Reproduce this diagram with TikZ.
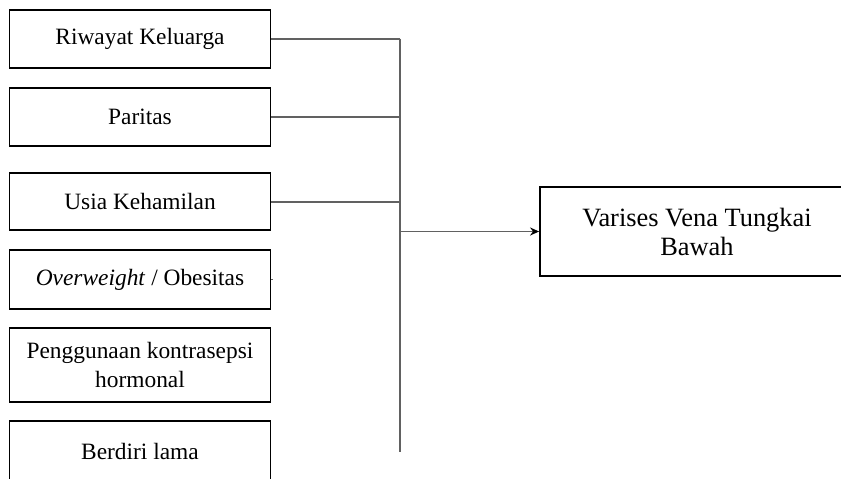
\documentclass[tikz,border=0pt]{standalone}
\usepackage{fontspec}
\setmainfont{Liberation Serif}
\usetikzlibrary{arrows.meta,positioning}

\begin{document}
\begin{tikzpicture}[
    x=0.5pt, y=-0.5pt,
    >={Stealth[length=4.5pt,width=4pt,color=black]},
    faktor/.style={draw, line width=0.9pt, minimum width=130.5pt, inner sep=0pt,
      align=center, font=\fontsize{11.7}{14.5}\selectfont},
    hasilbox/.style={draw, line width=0.9pt, minimum width=157pt, minimum height=44.5pt,
      inner sep=0pt, align=center, font=\fontsize{13.2}{14.5}\selectfont},
    link/.style={line width=0.95pt, black!62},
  ]
  \useasboundingbox (0,0) rectangle (841,478);
  \clip (0,0) rectangle (841,478);
  \def\bx{400}

  % ========= LEFT: FACTORS =========
  \node[faktor, minimum height=29pt] (riwayat) at (140,38.6) {Riwayat Keluarga};
  \node[faktor, minimum height=29pt] (paritas) at (140,116.7) {Paritas};
  \node[faktor, minimum height=28.5pt] (usia) at (140,201.7) {Usia Kehamilan};
  \node[faktor, minimum height=29.5pt] (obesitas) at (140,279.5) {\textit{Overweight} / Obesitas};
  \node[faktor, minimum height=37pt] (kontrasepsi) at (140,365) {Penggunaan kontrasepsi\\hormonal};
  \node[faktor, minimum height=30pt] (berdiri) at (140,451) {Berdiri lama};

  % ========= RIGHT: OUTCOME =========
  \node[hasilbox] (varises) at (697,231.5) {Varises Vena Tungkai\\Bawah};

  % Bus line
  \coordinate (bustop) at (\bx,38.6);
  \coordinate (busbot) at (\bx,452);
  \coordinate (stub) at (272.5,279.5);
  \draw[link] (bustop) -- (busbot);

  % Branches
  \draw[link] (riwayat.east) -- (riwayat.east -| bustop);
  \draw[link] (paritas.east) -- (paritas.east -| bustop);
  \draw[link] (usia.east) -- (usia.east -| bustop);
  \draw[link] (obesitas.east) -- (stub);

  % Arrow to outcome
  \draw[link, ->] (bustop |- varises.west) -- (varises.west);
\end{tikzpicture}
\end{document}
